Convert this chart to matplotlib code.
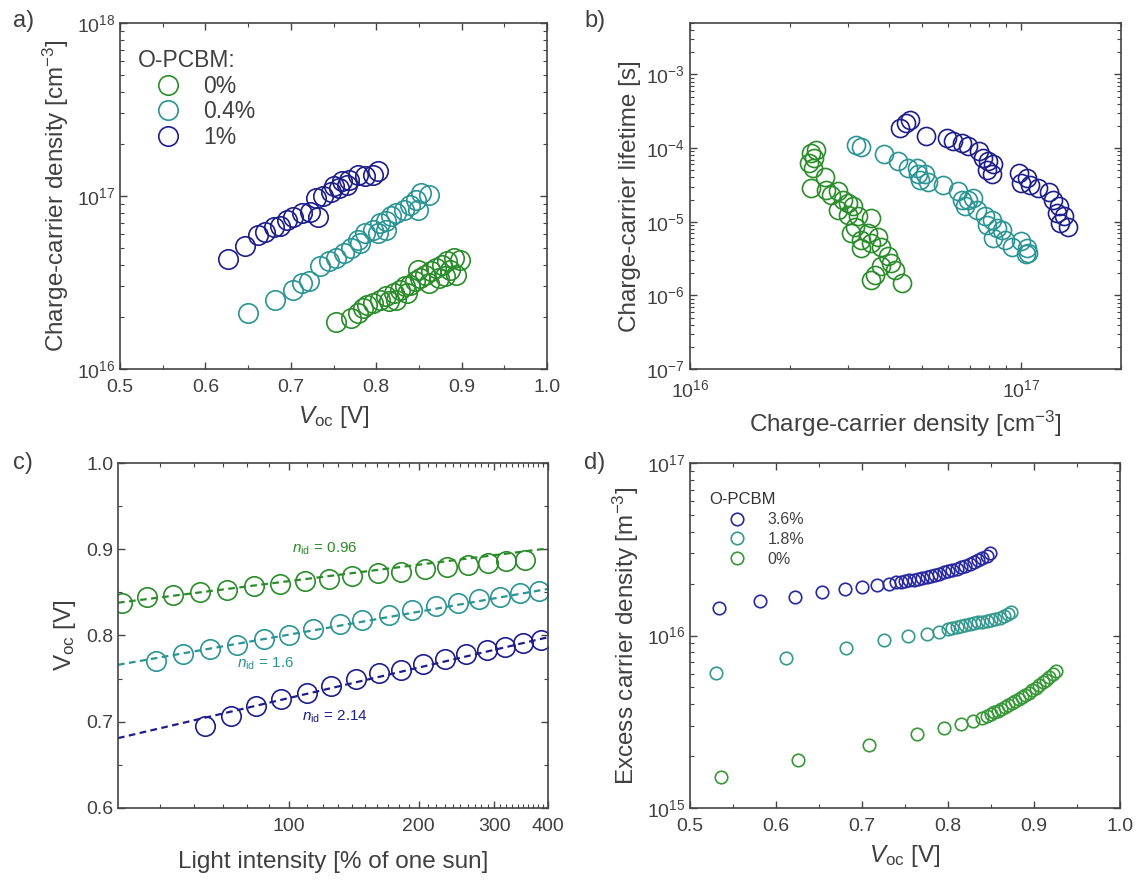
import numpy as np
import matplotlib.pyplot as plt
from matplotlib.ticker import MultipleLocator, LogLocator, NullFormatter, FixedLocator, FixedFormatter

plt.rcParams['font.family'] = ['Liberation Sans', 'DejaVu Sans']
plt.rcParams['mathtext.fontset'] = 'custom'
plt.rcParams['mathtext.rm'] = 'Liberation Sans'
plt.rcParams['mathtext.it'] = 'Liberation Sans:italic'
plt.rcParams['mathtext.bf'] = 'Liberation Sans:bold'
plt.rcParams['axes.unicode_minus'] = False

GREEN = '#2a8c2a'
TEAL = '#2b9494'
NAVY = '#1e1e8a'
TXT = '#404040'

# ---- panel a: charge-carrier density vs Voc
a_voc_0 = [0.753, 0.770, 0.779, 0.785, 0.789, 0.796, 0.804, 0.811, 0.815, 0.821, 0.823, 0.828,
           0.834, 0.836, 0.840, 0.845, 0.849, 0.851, 0.857, 0.862, 0.864, 0.870, 0.874, 0.877,
           0.881, 0.883, 0.887, 0.891, 0.894, 0.898]
a_n_0 = [1.86e16, 1.97e16, 2.11e16, 2.25e16, 2.35e16, 2.41e16, 2.52e16, 2.63e16, 2.46e16, 2.75e16,
         2.52e16, 2.87e16, 3.01e16, 2.75e16, 3.07e16, 3.21e16, 3.75e16, 3.36e16, 3.51e16, 3.14e16,
         3.67e16, 3.84e16, 3.36e16, 4.01e16, 3.43e16, 4.19e16, 3.75e16, 4.38e16, 3.51e16, 4.28e16]
a_voc_04 = [0.650, 0.681, 0.702, 0.713, 0.721, 0.734, 0.745, 0.753, 0.762, 0.770, 0.779, 0.781,
            0.787, 0.796, 0.802, 0.804, 0.811, 0.811, 0.817, 0.823, 0.832, 0.840, 0.847, 0.849,
            0.853, 0.862]
a_n_04 = [2.11e16, 2.52e16, 2.87e16, 3.14e16, 3.21e16, 3.92e16, 4.19e16, 4.38e16, 4.69e16, 5.00e16,
          5.59e16, 5.35e16, 6.11e16, 6.39e16, 6.11e16, 6.98e16, 7.14e16, 6.39e16, 7.63e16, 7.97e16,
          8.34e16, 8.91e16, 9.53e16, 8.34e16, 1.04e17, 1.02e17]
a_voc_1 = [0.626, 0.646, 0.662, 0.670, 0.680, 0.687, 0.695, 0.703, 0.713, 0.722, 0.732, 0.730,
           0.738, 0.747, 0.751, 0.756, 0.760, 0.766, 0.768, 0.779, 0.787, 0.796, 0.802]
a_n_1 = [4.32e16, 5.16e16, 5.96e16, 6.17e16, 6.65e16, 6.73e16, 7.26e16, 7.59e16, 7.94e16, 8.05e16,
         7.59e16, 9.77e16, 1.00e17, 1.05e17, 1.14e17, 1.11e17, 1.22e17, 1.16e17, 1.24e17, 1.33e17,
         1.30e17, 1.33e17, 1.39e17]

# ---- panel b: lifetime vs charge-carrier density
b_n_0 = [2.32e16, 2.40e16, 2.37e16, 2.29e16, 2.35e16, 2.55e16, 2.32e16, 2.58e16, 2.67e16, 2.79e16,
         2.89e16, 3.00e16, 3.10e16, 2.79e16, 3.00e16, 3.21e16, 3.14e16, 3.52e16, 3.06e16, 3.29e16,
         3.44e16, 3.52e16, 3.69e16, 3.78e16, 3.29e16, 3.96e16, 4.05e16, 3.78e16, 4.15e16, 3.61e16,
         4.35e16, 3.52e16]
b_tau_0 = [8.6e-5, 9.3e-5, 7.4e-5, 6.3e-5, 5.4e-5, 4.1e-5, 2.9e-5, 2.7e-5, 2.3e-5, 2.6e-5,
           2.0e-5, 1.8e-5, 1.62e-5, 1.46e-5, 1.25e-5, 1.18e-5, 8.6e-6, 1.12e-5, 7.0e-6, 5.7e-6,
           7.0e-6, 5.2e-6, 6.3e-6, 4.6e-6, 4.4e-6, 3.4e-6, 2.75e-6, 2.5e-6, 2.2e-6, 1.9e-6,
           1.47e-6, 1.63e-6]
b_n_04 = [3.17e16, 3.29e16, 3.86e16, 4.25e16, 4.55e16, 4.83e16, 4.89e16, 5.12e16, 4.94e16, 5.24e16,
          5.82e16, 6.46e16, 6.61e16, 6.92e16, 6.76e16, 7.17e16, 7.34e16, 7.78e16, 8.15e16, 7.87e16,
          8.44e16, 8.73e16, 8.24e16, 8.93e16, 9.37e16, 1.00e17, 1.04e17, 1.05e17, 1.03e17]
b_tau_04 = [1.11e-4, 1.05e-4, 8.2e-5, 6.6e-5, 5.4e-5, 5.4e-5, 4.4e-5, 4.4e-5, 3.7e-5, 3.5e-5,
            3.2e-5, 2.6e-5, 2.0e-5, 2.0e-5, 1.62e-5, 2.1e-5, 1.46e-5, 1.18e-5, 1.07e-5, 9.1e-6,
            8.2e-6, 7.8e-6, 6.0e-6, 5.7e-6, 4.6e-6, 5.4e-6, 4.4e-6, 3.8e-6, 3.6e-6]
b_n_1 = [4.30e16, 4.50e16, 4.60e16, 5.17e16, 5.96e16, 6.24e16, 6.61e16, 6.92e16, 7.43e16, 7.69e16,
         7.96e16, 8.24e16, 7.87e16, 8.15e16, 9.82e16, 1.04e17, 1.00e17, 1.06e17, 1.12e17, 1.21e17,
         1.25e17, 1.30e17, 1.28e17, 1.35e17, 1.31e17, 1.38e17]
b_tau_1 = [1.88e-4, 2.2e-4, 2.44e-4, 1.45e-4, 1.38e-4, 1.24e-4, 1.18e-4, 1.06e-4, 9.1e-5, 7.4e-5,
           6.6e-5, 6.0e-5, 5.1e-5, 4.4e-5, 4.6e-5, 3.9e-5, 3.4e-5, 3.2e-5, 2.9e-5, 2.5e-5,
           2.0e-5, 1.62e-5, 1.32e-5, 1.18e-5, 9.6e-6, 8.6e-6]

# ---- panel c: Voc vs light intensity
c_int_0 = [40.9, 46.8, 53.8, 62.0, 71.6, 82.8, 95.3, 109, 124, 140, 161, 182, 207, 233, 261, 290, 320, 354]
c_voc_0 = [0.838, 0.845, 0.847, 0.850, 0.853, 0.857, 0.860, 0.863, 0.866, 0.869, 0.872, 0.874,
           0.877, 0.880, 0.882, 0.884, 0.886, 0.888]
c_int_16 = [49.0, 56.8, 65.6, 75.5, 87.4, 100, 113.6, 131, 148, 171, 193, 219, 247, 277, 310, 344, 382]
c_voc_16 = [0.770, 0.778, 0.784, 0.789, 0.796, 0.801, 0.807, 0.813, 0.818, 0.824, 0.829, 0.834,
            0.838, 0.842, 0.845, 0.849, 0.852]
c_int_214 = [63.8, 73.4, 83.9, 96, 110, 125, 143, 162, 182, 205, 230, 258, 288, 317, 350, 386]
c_voc_214 = [0.695, 0.707, 0.718, 0.726, 0.733, 0.742, 0.750, 0.756, 0.760, 0.767, 0.773, 0.778,
             0.783, 0.787, 0.791, 0.795]
c_fit_int = [40, 400]
c_fit_0 = [0.838, 0.901]
c_fit_16 = [0.766, 0.854]
c_fit_214 = [0.681, 0.798]

# ---- panel d: excess carrier density vs Voc
d_voc_36 = [0.534, 0.581, 0.622, 0.654, 0.680, 0.700, 0.718, 0.731, 0.740, 0.745, 0.750, 0.755,
            0.760, 0.765, 0.770, 0.775, 0.780, 0.785, 0.790, 0.795, 0.800, 0.805, 0.810, 0.815,
            0.820, 0.825, 0.830, 0.835, 0.840, 0.845, 0.849]
d_n_36 = [1.44e16, 1.58e16, 1.68e16, 1.78e16, 1.85e16, 1.90e16, 1.95e16, 1.99e16, 2.03e16, 2.05e16,
          2.07e16, 2.09e16, 2.11e16, 2.13e16, 2.16e16, 2.19e16, 2.22e16, 2.25e16, 2.28e16, 2.32e16,
          2.36e16, 2.40e16, 2.44e16, 2.49e16, 2.54e16, 2.60e16, 2.66e16, 2.73e16, 2.81e16, 2.90e16,
          2.99e16]
d_voc_18 = [0.530, 0.612, 0.681, 0.726, 0.754, 0.775, 0.789, 0.800, 0.805, 0.810, 0.815, 0.820,
            0.825, 0.830, 0.835, 0.840, 0.845, 0.850, 0.855, 0.860, 0.865, 0.870, 0.873]
d_n_18 = [6.05e15, 7.39e15, 8.48e15, 9.40e15, 9.90e15, 1.02e16, 1.05e16, 1.09e16, 1.10e16, 1.12e16,
          1.14e16, 1.15e16, 1.16e16, 1.18e16, 1.19e16, 1.20e16, 1.22e16, 1.23e16, 1.25e16, 1.27e16,
          1.30e16, 1.33e16, 1.36e16]
d_voc_0 = [0.536, 0.625, 0.708, 0.764, 0.795, 0.815, 0.829, 0.840, 0.845, 0.850, 0.854, 0.858,
           0.862, 0.866, 0.870, 0.874, 0.878, 0.882, 0.886, 0.890, 0.894, 0.898, 0.902, 0.906,
           0.910, 0.914, 0.918, 0.922, 0.926]
d_n_0 = [1.51e15, 1.89e15, 2.31e15, 2.70e15, 2.92e15, 3.06e15, 3.20e15, 3.34e15, 3.42e15, 3.50e15,
         3.58e15, 3.66e15, 3.75e15, 3.84e15, 3.94e15, 4.04e15, 4.15e15, 4.27e15, 4.40e15, 4.53e15,
         4.67e15, 4.83e15, 4.99e15, 5.16e15, 5.35e15, 5.55e15, 5.77e15, 6.00e15, 6.24e15]


def style(ax):
    for s in ax.spines.values():
        s.set_color('#444444')
        s.set_linewidth(1.2)
    ax.tick_params(which='both', direction='in', top=True, right=True,
                   colors='#444444', labelcolor=TXT, labelsize=14)
    ax.tick_params(which='major', length=5, width=1.0)
    ax.tick_params(which='minor', length=3, width=0.8)
    ax.tick_params(axis='x', pad=7)


def circles(ax, x, y, color, ms, label=None):
    ax.plot(x, y, 'o', mfc='none', mec=color, mew=1.2, ms=ms, ls='none', label=label)


fig = plt.figure(figsize=(11.38, 8.83), dpi=100)
W, H = 1138, 883


def box(l, r, t, b):
    return [l / W, 1 - b / H, (r - l) / W, (b - t) / H]


ax_a = fig.add_axes(box(120, 547, 23, 369))
ax_b = fig.add_axes(box(690, 1121, 23, 369))
ax_c = fig.add_axes(box(118, 548, 463, 808))
ax_d = fig.add_axes(box(690, 1120, 463, 808))

# a)
circles(ax_a, a_voc_0, a_n_0, GREEN, 14, '0%')
circles(ax_a, a_voc_04, a_n_04, TEAL, 14, '0.4%')
circles(ax_a, a_voc_1, a_n_1, NAVY, 14, '1%')
ax_a.set_yscale('log')
ax_a.set_xlim(0.5, 1.0)
ax_a.set_ylim(1e16, 1e18)
ax_a.xaxis.set_major_locator(MultipleLocator(0.1))
ax_a.xaxis.set_minor_locator(MultipleLocator(0.05))
ax_a.yaxis.set_minor_locator(LogLocator(subs=np.arange(2, 10)))
ax_a.yaxis.set_minor_formatter(NullFormatter())
ax_a.set_xlabel(r'$V_{\rm oc}$ [V]', fontsize=17.5, color=TXT, labelpad=6)
ax_a.set_ylabel(r'Charge-carrier density [cm$^{-3}$]', fontsize=17.5, color=TXT, labelpad=4)
style(ax_a)
leg = ax_a.legend(title='O-PCBM:', loc='upper left', bbox_to_anchor=(0.042, 0.925),
                  frameon=False, fontsize=16.5, title_fontsize=16.5, borderpad=0,
                  borderaxespad=0, handlelength=2.6, handletextpad=0.25, labelspacing=0.12,
                  alignment='left')
for t in leg.get_texts():
    t.set_color(TXT)
leg.get_title().set_color(TXT)

# b)
circles(ax_b, b_n_0, b_tau_0, GREEN, 13)
circles(ax_b, b_n_04, b_tau_04, TEAL, 13)
circles(ax_b, b_n_1, b_tau_1, NAVY, 13)
ax_b.set_xscale('log')
ax_b.set_yscale('log')
ax_b.set_xlim(1e16, 2e17)
ax_b.set_ylim(1e-7, 5e-3)
for axis in (ax_b.xaxis, ax_b.yaxis):
    axis.set_major_locator(LogLocator(numticks=20))
    axis.set_minor_locator(LogLocator(subs=np.arange(2, 10), numticks=20))
    axis.set_minor_formatter(NullFormatter())
ax_b.set_xlabel(r'Charge-carrier density [cm$^{-3}$]', fontsize=17.5, color=TXT, labelpad=6)
ax_b.set_ylabel('Charge-carrier lifetime [s]', fontsize=17.5, color=TXT, labelpad=4)
style(ax_b)

# c)
ax_c.plot(c_fit_int, c_fit_0, ls=(0, (3, 2)), color=GREEN, lw=1.6)
ax_c.plot(c_fit_int, c_fit_16, ls=(0, (3, 2)), color=TEAL, lw=1.6)
ax_c.plot(c_fit_int, c_fit_214, ls=(0, (3, 2)), color=NAVY, lw=1.6)
circles(ax_c, c_int_0, c_voc_0, GREEN, 14)
circles(ax_c, c_int_16, c_voc_16, TEAL, 14)
circles(ax_c, c_int_214, c_voc_214, NAVY, 14)
ax_c.set_xscale('log')
ax_c.set_xlim(40, 400)
ax_c.set_ylim(0.6, 1.0)
ax_c.xaxis.set_major_locator(FixedLocator([100, 200, 300, 400]))
ax_c.xaxis.set_major_formatter(FixedFormatter(['100', '200', '300', '400']))
ax_c.xaxis.set_minor_locator(FixedLocator(list(range(50, 100, 10)) + list(range(110, 400, 10))))
ax_c.xaxis.set_minor_formatter(NullFormatter())
ax_c.yaxis.set_major_locator(MultipleLocator(0.1))
ax_c.yaxis.set_minor_locator(MultipleLocator(0.05))
ax_c.yaxis.set_major_formatter(plt.FormatStrFormatter('%.1f'))
ax_c.set_xlabel('Light intensity [% of one sun]', fontsize=17.5, color=TXT, labelpad=12)
ax_c.set_ylabel(r'V$_{\rm oc}$ [V]', fontsize=17.5, color=TXT, labelpad=6)
style(ax_c)
ax_c.text(121, 0.901, r'$n_{\rm id}$ = 0.96', color=GREEN, fontsize=11, ha='center', va='center')
ax_c.text(88, 0.767, r'$n_{\rm id}$ = 1.6', color=TEAL, fontsize=11, ha='center', va='center')
ax_c.text(128, 0.706, r'$n_{\rm id}$ = 2.14', color=NAVY, fontsize=11, ha='center', va='center')

# d)
circles(ax_d, d_voc_36, d_n_36, '#2828a0', 9, '3.6%')
circles(ax_d, d_voc_18, d_n_18, '#35998f', 9, '1.8%')
circles(ax_d, d_voc_0, d_n_0, '#389838', 9, '0%')
ax_d.set_yscale('log')
ax_d.set_xlim(0.5, 1.0)
ax_d.set_ylim(1e15, 1e17)
ax_d.xaxis.set_major_locator(MultipleLocator(0.1))
ax_d.xaxis.set_minor_locator(MultipleLocator(0.05))
ax_d.yaxis.set_minor_locator(LogLocator(subs=np.arange(2, 10)))
ax_d.yaxis.set_minor_formatter(NullFormatter())
ax_d.set_xlabel(r'$V_{\rm oc}$ [V]', fontsize=17.5, color=TXT, labelpad=6)
ax_d.set_ylabel(r'Excess carrier density [m$^{-3}$]', fontsize=17.5, color=TXT, labelpad=4)
style(ax_d)
leg = ax_d.legend(title='O-PCBM', loc='upper left', bbox_to_anchor=(0.045, 0.915),
                  frameon=False, fontsize=11.5, title_fontsize=12, borderpad=0,
                  borderaxespad=0, handlelength=3.4, handletextpad=0.25, labelspacing=0.3,
                  alignment='left')
for t in leg.get_texts():
    t.set_color(TXT)
leg.get_title().set_color('#333333')

# panel letters
for x, y, s in [(13, 21, 'a)'), (584, 21, 'b)'), (13, 463, 'c)'), (584, 463, 'd)')]:
    fig.text(x / W, 1 - y / H, s, fontsize=17, color=TXT, ha='left', va='center')

fig.savefig('out.png', dpi=100)
